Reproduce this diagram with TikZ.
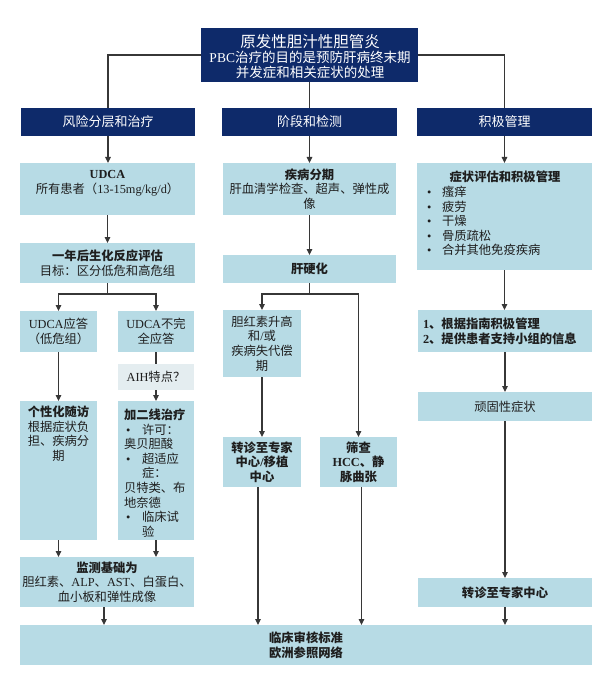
\documentclass[tikz,border=0pt]{standalone}
\usepackage{fontspec}
\setmainfont{Liberation Serif}
\newfontfamily\cjk{Noto Sans CJK SC}
\usetikzlibrary{arrows.meta,fit}
\definecolor{navy}{RGB}{14,42,106}
\definecolor{lblue}{RGB}{183,219,229}
\definecolor{pale}{RGB}{228,237,240}
\definecolor{lnc}{RGB}{55,55,55}
\definecolor{tx}{RGB}{30,30,30}
\newcommand\lat{\rmfamily}
\newcommand\bulA{\makebox[18pt][l]{\hspace{2pt}\lat\textbullet}}
\newcommand\bulB{\makebox[15pt][l]{\lat\textbullet}}
\begin{document}
\begin{tikzpicture}[x=1pt,y=-1pt,
 every node/.style={inner sep=0pt, outer sep=0pt},
 hdr/.style={fill=navy},
 htxt/.style={text=white, font=\cjk\fontsize{13}{15}\selectfont, align=center},
 box/.style={fill=lblue},
 palebox/.style={fill=pale},
 txt/.style={text=tx, font=\cjk\fontsize{12.3}{14.6}\selectfont, align=center},
 conn/.style={draw=lnc, line width=1.1pt},
 arr/.style={conn, -{Triangle[length=6pt,width=5.5pt]}}
]
\fill[white] (0,0) rectangle (610,679);
\useasboundingbox (0,0) rectangle (610,679);

% top and headers
\node[hdr, fit={(201,28)(418,82)}] (top) {};
\node[htxt, font=\cjk\fontsize{13.5}{15}\selectfont] (topt) at (310,57)
  {{\fontsize{15.5}{15}\selectfont 原发性胆汁性胆管炎}\\{\lat PBC}治疗的目的是预防肝病终末期\\并发症和相关症状的处理};
\node[hdr, fit={(21,108)(195,136)}] (h1) {};
\node[htxt] (h1t) at (h1) {风险分层和治疗};
\node[hdr, fit={(222,108)(397,136)}] (h2) {};
\node[htxt] (h2t) at (h2) {阶段和检测};
\node[hdr, fit={(417,108)(592,136)}] (h3) {};
\node[htxt] (h3t) at (h3) {积极管理};

% left column
\node[box, fit={(20,163)(195,215)}] (udca) {};
\node[txt] (udcat) at (107.5,183) {{\lat\bfseries UDCA}\\所有患者（{\lat 13-15mg/kg/d}）};
\node[box, fit={(20,243)(195,283)}] (eval) {};
\node[txt] (evalt) at (eval) {\textbf{一年后生化反应评估}\\目标：区分低危和高危组};
\node[box, fit={(20,311)(97,352)}] (low) {};
\node[txt] (lowt) at (low) {{\lat UDCA}应答\\（低危组）};
\node[box, fit={(118,311)(194,352)}] (high) {};
\node[txt] (hight) at (high) {{\lat UDCA}不完\\全应答};
\node[palebox, fit={(118,364)(194,390)}] (aih) {};
\node[txt] (aiht) at (aih) {{\lat AIH}特点？};
\node[box, fit={(20,401)(97,540)}] (indiv) {};
\node[txt, anchor=north] (indivt) at (58.5,406) {\textbf{个性化随访}\\根据症状负\\担、疾病分\\期};
\node[box, fit={(118,401)(194,540)}] (line2) {};
\node[txt, align=left, anchor=north west] (line2t) at (124,409)
  {\textbf{加二线治疗}\\\bulA 许可：\\奥贝胆酸\\\bulA 超适应\\\hspace*{18pt}症：\\贝特类、布\\地奈德\\\bulA 临床试\\\hspace*{18pt}验};
\node[box, fit={(20,557)(194,607)}] (mon) {};
\node[txt] (mont) at (mon) {\textbf{监测基础为}\\胆红素、{\lat ALP}、{\lat AST}、白蛋白、\\血小板和弹性成像};
\node[box, fit={(20,625)(592,665)}] (bot) {};
\node[txt] (bott) at (bot) {\textbf{临床审核标准}\\\textbf{欧洲参照网络}};

% middle column
\node[box, fit={(223,163)(396,215)}] (stage) {};
\node[txt] (staget) at (stage) {\textbf{疾病分期}\\肝血清学检查、超声、弹性成\\像};
\node[box, fit={(223,255)(396,283)}] (cirr) {};
\node[txt] (cirrt) at (cirr) {\textbf{肝硬化}};
\node[box, fit={(223,310)(301,377)}] (bili) {};
\node[txt] (bilit) at (bili) {胆红素升高\\和{\lat /}或\\疾病失代偿\\期};
\node[box, fit={(223,437)(301,487)}] (ref1) {};
\node[txt] (ref1t) at (ref1) {\textbf{转诊至专家}\\\textbf{中心{\lat /}移植}\\\textbf{中心}};
\node[box, fit={(320,437)(397,487)}] (screen) {};
\node[txt] (screent) at (screen) {\textbf{筛查}\\\textbf{{\lat HCC}、静}\\\textbf{脉曲张}};

% right column
\node[box, fit={(417,163)(592,270)}] (symp) {};
\node[txt] (sympt) at (505,177) {\textbf{症状评估和积极管理}};
\node[txt, align=left, anchor=north west] (sympl) at (427,186)
  {\bulB 瘙痒\\\bulB 疲劳\\\bulB 干燥\\\bulB 骨质疏松\\\bulB 合并其他免疫疾病};
\node[box, fit={(418,310)(592,352)}] (act) {};
\node[txt, align=left, anchor=west] (actt) at (423,331)
  {\textbf{{\lat 1}、根据指南积极管理}\\\textbf{{\lat 2}、提供患者支持小组的信息}};
\node[box, fit={(418,392)(592,421)}] (refr) {};
\node[txt] (refrt) at (refr) {顽固性症状};
\node[box, fit={(418,578)(592,607)}] (spec) {};
\node[txt] (spect) at (spec) {\textbf{转诊至专家中心}};

% connectors
\draw[conn] (top.west) -| (h1.north);
\draw[conn] (top.south) -- (h2.north);
\draw[conn] (top.east) -| (h3.north);

\draw[arr] (h1.south) -- (h1.south |- udca.north);
\draw[arr] (udca.south) -- (udca.south |- eval.north);
\draw[conn] (eval.south) -- ++(0,11) coordinate (sp1);
\draw[arr] (sp1) -| (low.north);
\draw[arr] (sp1) -| (high.north);
\draw[conn] (high.south) -- (aih.north);
\draw[arr] (aih.south) -- (line2.north);
\draw[arr] (low.south) -- (indiv.north);
\draw[arr] (indiv.south) -- (indiv.south |- mon.north);
\draw[arr] (line2.south) -- (line2.south |- mon.north);
\draw[arr] ([xshift=-3pt]mon.south) -- ([xshift=-3pt]mon.south |- bot.north);

\draw[arr] (h2.south) -- (h2.south |- stage.north);
\draw[arr] (stage.south) -- (stage.south |- cirr.north);
\draw[conn] (cirr.south) -- ++(0,11) coordinate (sp2);
\draw[arr] (sp2) -| (bili.north);
\draw[arr] (sp2) -| (screen.north);
\draw[arr] (bili.south) -- (ref1.north);
\draw[arr] ([xshift=-4pt]ref1.south) -- ([xshift=-4pt]ref1.south |- bot.north);
\draw[arr] ([xshift=3pt]screen.south) -- ([xshift=3pt]screen.south |- bot.north);

\draw[arr] (h3.south) -- (h3.south |- symp.north);
\draw[arr] (symp.south) -- (symp.south |- act.north);
\draw[arr] (act.south) -- (act.south |- refr.north);
\draw[arr] (refr.south) -- (refr.south |- spec.north);
\draw[arr] (spec.south) -- (spec.south |- bot.north);
\end{tikzpicture}
\end{document}
